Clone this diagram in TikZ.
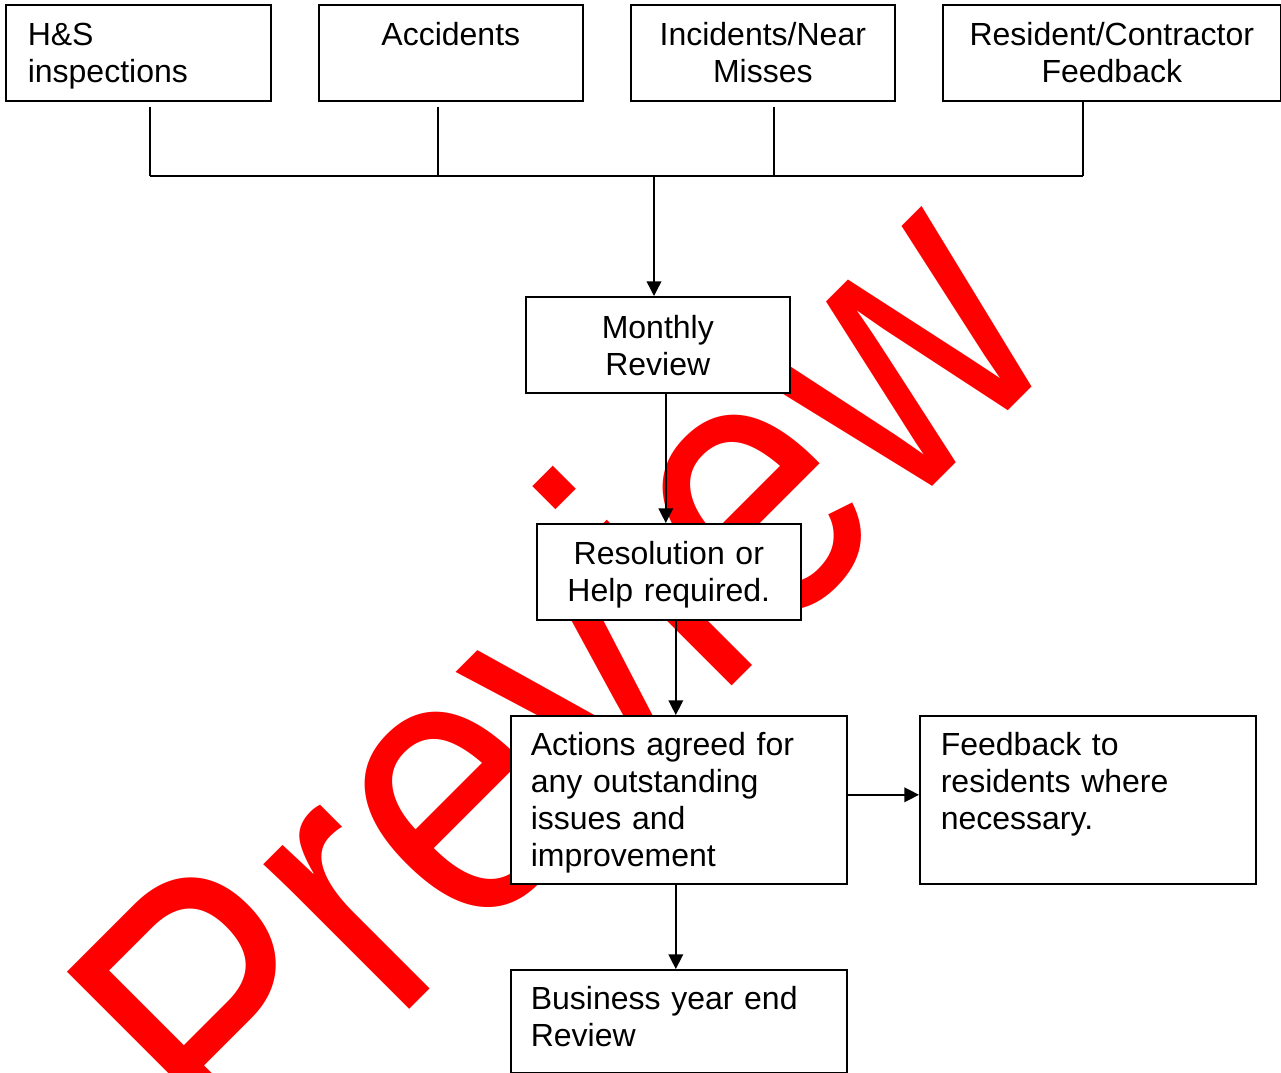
\documentclass[tikz,border=0pt]{standalone}
\usepackage{fontspec}
\setmainfont{Liberation Sans}
\usetikzlibrary{arrows.meta}
\begin{document}
\begin{tikzpicture}[x=0.75pt,y=-0.75pt,
  box/.style={draw, fill=white, line width=1.2pt, inner ysep=0pt, anchor=north west,
    font=\fontsize{24pt}{27.6pt}\selectfont},
  arr/.style={-{Triangle[length=11pt,width=11pt]}, line width=1.1pt},
  conn/.style={line width=1.1pt},
  wmark/.style={text=red, inner sep=0pt, anchor=base west,
    font=\fontsize{291.75pt}{291.75pt}\selectfont}]
\fill[white] (0,0) rectangle (1281,1073);
\useasboundingbox (0,0) rectangle (1281,1073);
% watermark
\node[wmark, rotate=45, xscale=0.847] (wm) at (237.6,1180.9) {Preview};
% boxes
\node[box, inner xsep=16.5pt, text width=165.75pt, align=left, text height=30.75pt, text depth=41.25pt] (hs) at (5,4) {H\&S\\inspections};
\node[box, inner xsep=7.5pt, text width=183pt, align=center, text height=30.75pt, text depth=41.25pt] (acc) at (318,4) {Accidents};
\node[box, inner xsep=7.5pt, text width=183pt, align=center, text height=30.75pt, text depth=41.25pt] (inc) at (630,4) {Incidents/Near\\Misses};
\node[box, inner xsep=7.5pt, text width=238.5pt, align=center, text height=30.75pt, text depth=41.25pt] (res) at (942,4) {Resident/Contractor\\Feedback};
\node[box, inner xsep=7.5pt, text width=183pt, align=center, text height=31.1pt, text depth=40.9pt] (mon) at (525,296) {Monthly\\Review};
\node[box, inner xsep=7.5pt, text width=183pt, align=center, text height=30.4pt, text depth=41.6pt] (res2) at (536,523) {Resolution or\\Help required.};
\node[box, inner xsep=15pt, text width=222pt, align=left, text height=30pt, text depth=96pt] (act) at (510,715) {Actions agreed for\\any outstanding\\issues and\\improvement};
\node[box, inner xsep=15.75pt, text width=220.5pt, align=left, text height=30pt, text depth=96pt] (fb) at (919,715) {Feedback to\\residents where\\necessary.};
\node[box, inner xsep=15pt, text width=222pt, align=left, text height=30pt, text depth=47.25pt] (bus) at (510,969) {Business year end\\Review};
% connectors
\coordinate (j1) at (150,176);
\coordinate (j2) at (438,176);
\coordinate (j3) at (774,176);
\coordinate (j4) at (1083,176);
\coordinate (jm) at (654,176);
\draw[conn, shorten <=3.75pt] (hs.south -| j1) -- (j1);
\draw[conn, shorten <=3.75pt] (acc.south -| j2) -- (j2);
\draw[conn, shorten <=3.75pt] (inc.south -| j3) -- (j3);
\draw[conn] (res.south -| j4) -- (j4);
\draw[conn] (j1) -- (j4);
\draw[arr] (jm) -- (mon.north -| jm);
\draw[arr] ([xshift=6pt]mon.south) -- ([xshift=-2.25pt]res2.north);
\draw[arr] ([xshift=5.25pt]res2.south) -- ([xshift=-2.25pt]act.north);
\draw[arr] ([yshift=3.75pt]act.east) -- ([yshift=3.75pt]fb.west);
\draw[arr] ([xshift=-2.25pt]act.south) -- ([xshift=-2.25pt]bus.north);
\end{tikzpicture}
\end{document}
